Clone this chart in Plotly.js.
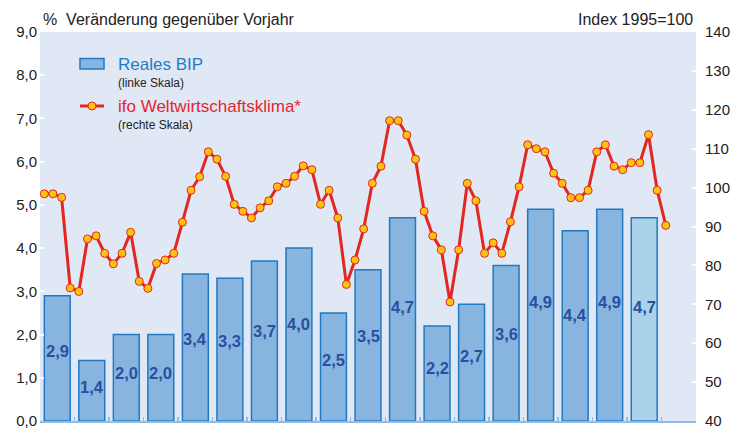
<!DOCTYPE html>
<html>
<head>
<meta charset="utf-8">
<script src="https://cdn.plot.ly/plotly-3.0.1.min.js"></script>
<style>html,body{margin:0;padding:0;background:#fff;}#chart{width:733px;height:430px;}</style>
</head>
<body>
<div id="chart"></div>
<script>
// ---- data ----
var years = ["1990","1991","1992","1993","1994","1995","1996","1997","1998","1999","2000","2001","2002","2003","2004","2005","2006","2007"];
var gdpGrowth = [2.9, 1.4, 2.0, 2.0, 3.4, 3.3, 3.7, 4.0, 2.5, 3.5, 4.7, 2.2, 2.7, 3.6, 4.9, 4.4, 4.9, 4.7];
var forecastFlags = [0,0,0,0,0,0,0,0,0,0,0,0,0,0,0,0,0,1];
// ifo world economic climate, quarterly from 1990 Q1 to 2008 Q1 (Index 1995=100)
var ifoClimate = [98.4,98.4,97.5,74.2,73.3,86.8,87.6,83.1,80.4,83.1,
  88.5,75.9,74.1,80.5,81.4,83.1,91.1,99.3,102.8,109.2,
  107.3,102.9,95.7,93.9,92.2,94.8,96.6,100.2,101.1,102.9,
  105.6,104.6,95.7,99.3,92.2,75.1,81.4,89.4,101.1,105.5,
  117.2,117.2,113.5,107.3,93.9,87.6,84.0,70.6,84.0,101.1,
  96.6,83.1,85.8,83.1,91.2,100.2,111.0,110.0,109.2,103.7,
  101.1,97.4,97.4,99.3,109.2,111.0,105.5,104.6,106.4,106.4,
  113.6,99.3,90.3];
var leftTicks = [0,1,2,3,4,5,6,7,8,9];
var rightTicks = [40,50,60,70,80,90,100,110,120,130,140];

// ---- layout helpers ----
var FONT = "Liberation Sans, Arial, sans-serif";
var L = 40, R = 696, T = 32, B = 421;
function px(x){ return (x - L) / (R - L); }
function py(y){ return (B - y) / (B - T); }

var barX = years.map(function(_, i){ return i; });
var lineX = ifoClimate.map(function(_, i){ return i / 4 - 0.375; });

var barFill = forecastFlags.map(function(f){ return f ? "#aad3ea" : "#88b5df"; });

var traces = [
  {
    type: "bar", x: barX, y: gdpGrowth, width: 0.75,
    marker: {color: barFill, line: {color: "#2279c2", width: 1.5}},
    hoverinfo: "skip", showlegend: false, xaxis: "x", yaxis: "y"
  },
  {
    type: "scatter", mode: "lines+markers", x: lineX, y: ifoClimate,
    line: {color: "#e3271f", width: 3},
    marker: {size: 8, color: "#ffc20e", line: {color: "#e3271f", width: 1}},
    hoverinfo: "skip", showlegend: false, xaxis: "x", yaxis: "y2"
  }
];

var annotations = gdpGrowth.map(function(v, i){
  return {
    x: i, y: v * 0.56, xref: "x", yref: "y",
    text: v.toFixed(1).replace(".", ","), showarrow: false,
    font: {family: FONT, size: 16.5, color: "#2b4f9f", weight: "bold"},
    xanchor: "center", yanchor: "middle"
  };
});

function addText(text, x, y, size, color, anchor){
  annotations.push({
    text: text, x: px(x), y: py(y), xref: "paper", yref: "paper",
    showarrow: false, xanchor: anchor || "left", yanchor: "middle",
    font: {family: FONT, size: size, color: color}, borderpad: 0
  });
}
addText("%  Veränderung gegenüber Vorjahr", 42, 19.5, 16, "#222222");
addText("Index 1995=100", 694, 19.5, 16, "#222222", "right");
addText("Reales BIP", 117, 64.5, 17, "#1f7cc1");
addText("(linke Skala)", 117, 82.5, 12, "#222222");
addText("ifo Weltwirtschaftsklima*", 117, 106.5, 17, "#e3262b");
addText("(rechte Skala)", 117, 125, 12, "#222222");

var shapes = [
  {type: "rect", xref: "paper", yref: "paper", x0: px(80), x1: px(104), y0: py(69), y1: py(58.5),
   fillcolor: "#88b5df", line: {color: "#2279c2", width: 1.5}},
  {type: "line", xref: "paper", yref: "paper", x0: px(80), x1: px(104), y0: py(106), y1: py(106),
   line: {color: "#e3271f", width: 3}},
  {type: "circle", xref: "paper", yref: "paper", x0: px(88), x1: px(96), y0: py(110), y1: py(102),
   fillcolor: "#ffc20e", line: {color: "#e3271f", width: 1}}
];

var boundaryTicks = [];
for (var k = -1; k < years.length + 1; k++) boundaryTicks.push(k + 0.5);

var layout = {
  width: 733, height: 430,
  margin: {l: L, r: 733 - R, t: T, b: 430 - B, pad: 0},
  paper_bgcolor: "#ffffff", plot_bgcolor: "#e1e8f5",
  separators: ",.",
  font: {family: FONT, size: 15, color: "#222222"},
  showlegend: false,
  bargap: 0,
  xaxis: {
    range: [-0.5, years.length + 0.5], showgrid: false, zeroline: false,
    showline: true, linecolor: "#8fbbe6", linewidth: 2,
    tickvals: boundaryTicks, ticks: "inside", ticklen: 4, tickwidth: 1.5, tickcolor: "#8fbbe6",
    showticklabels: false, fixedrange: true
  },
  yaxis: {
    range: [0, 9], tickvals: leftTicks, tickformat: ".1f",
    showgrid: false, zeroline: false, showline: false,
    ticks: "inside", ticklen: 4, tickwidth: 2, tickcolor: "#ffffff",
    tickfont: {family: FONT, size: 15, color: "#222222"}, ticklabelstandoff: 2
  },
  yaxis2: {
    range: [40, 140], tickvals: rightTicks, overlaying: "y", side: "right",
    showgrid: false, zeroline: false, showline: false,
    ticks: "inside", ticklen: 4, tickwidth: 2, tickcolor: "#ffffff",
    tickfont: {family: FONT, size: 15, color: "#222222"}, ticklabelstandoff: 8
  },
  annotations: annotations,
  shapes: shapes
};

Plotly.newPlot("chart", traces, layout, {staticPlot: true, displayModeBar: false});
</script>
</body>
</html>
